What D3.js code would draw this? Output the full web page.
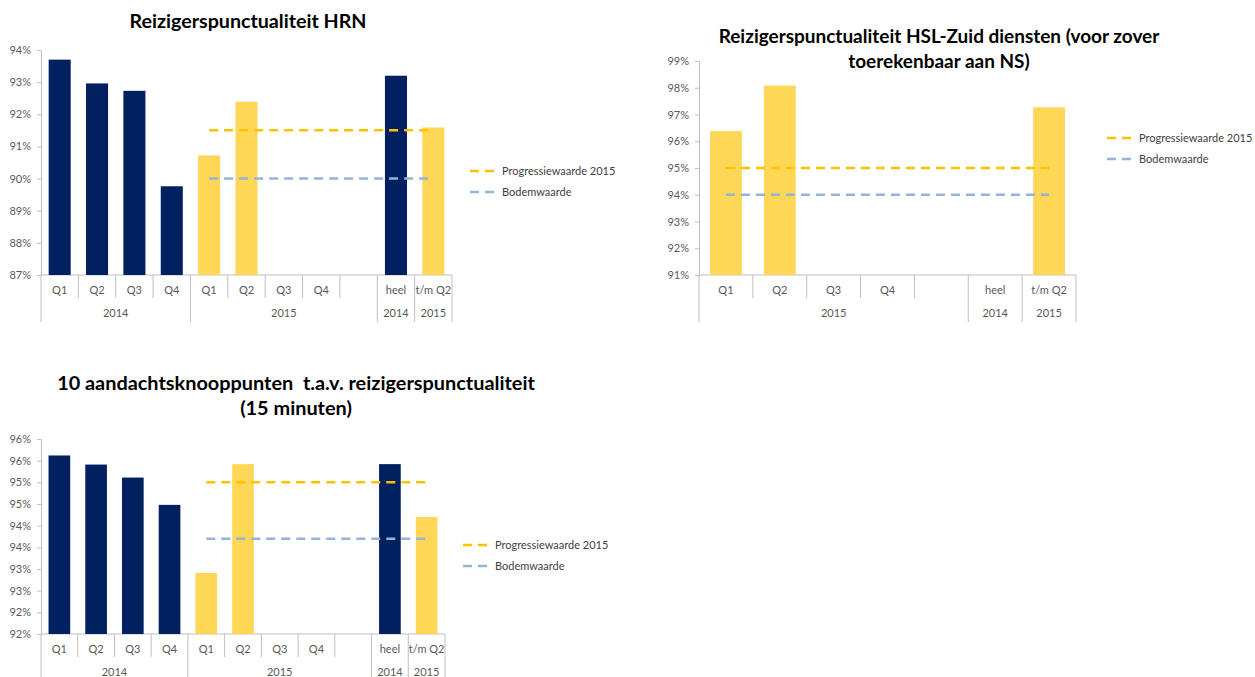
<!DOCTYPE html>
<html>
<head>
<meta charset="utf-8">
<script src="https://cdn.jsdelivr.net/npm/d3@7"></script>
<style>
  body { margin: 0; background: #fff; }
  svg { font-family: Lato, "Open Sans", sans-serif; }
</style>
</head>
<body>
<svg id="charts" width="1255" height="677"></svg>
<script>
// ---- Data ----
// Charts 1 and 3 share the same category axis
const quarterCategories = ["Q1", "Q2", "Q3", "Q4", "Q1", "Q2", "Q3", "Q4", "", "heel", "t/m Q2"];
const quarterBarYears = ["2014", "2014", "2014", "2014", "2015", "2015", "2015", "2015", "", "2014", "2015"];
const quarterGroups = ["2014", "2015", "2014", "2015"];
const quarterGroupSpans = [4, 5, 1, 1];

// Reizigerspunctualiteit HRN (%)
const hrnValues = [93.7, 92.96, 92.73, 89.76, 90.72, 92.39, null, null, null, 93.2, 91.59];
const hrnTicks = [87, 88, 89, 90, 91, 92, 93, 94];
const hrnProgressie = 91.5;
const hrnBodem = 90;

// Reizigerspunctualiteit HSL-Zuid (%)
const hslCategories = ["Q1", "Q2", "Q3", "Q4", "", "heel", "t/m Q2"];
const hslBarYears = ["2015", "2015", "2015", "2015", "", "2014", "2015"];
const hslGroups = ["2015", "2014", "2015"];
const hslGroupSpans = [5, 1, 1];
const hslValues = [96.38, 98.08, null, null, null, null, 97.27];
const hslTicks = [91, 92, 93, 94, 95, 96, 97, 98, 99];
const hslProgressie = 95;
const hslBodem = 94;

// 10 aandachtsknooppunten (%)
const knoopValues = [95.62, 95.41, 95.11, 94.48, 92.91, 95.42, null, null, null, 95.42, 94.2];
const knoopTicks = [91.5, 92, 92.5, 93, 93.5, 94, 94.5, 95, 95.5, 96];
const knoopProgressie = 95;
const knoopBodem = 93.7;

const legendLabels = ["Progressiewaarde 2015", "Bodemwaarde"];

// ---- Styles ----
const yearColor = d3.scaleOrdinal().domain(["2014", "2015"]).range(["#002060", "#FDD755"]);
const lineColors = ["#FFC000", "#95B3D7"];
const axisColor = "#BFBFBF";
const labelColor = "#595959";

const svg = d3.select("#charts");

// shrink/grow a title so its longest line matches the width in the picture
function fitTitle(sel, targetWidth, baseSize) {
    const texts = sel.selectAll("text");
    texts.style("font-size", baseSize + "px");
    const widest = d3.max(texts.nodes(), n => n.getComputedTextLength());
    texts.style("font-size", (baseSize * targetWidth / widest) + "px");
}

function drawChart(cfg) {
    const g = svg.append("g");
    const { left, right, top, bottom } = cfg.plot;
    const n = cfg.categories.length;

    const x = d3.scaleBand()
        .domain(d3.range(n))
        .range([left, right])
        .padding(0);
    const bw = x.bandwidth();
    const barW = bw * 0.59;

    const y = d3.scaleLinear()
        .domain([cfg.ticks[0], cfg.ticks[cfg.ticks.length - 1]])
        .range([bottom, top]);

    // Y axis
    const yAxis = g.append("g")
        .attr("transform", `translate(${left},0)`)
        .call(d3.axisLeft(y)
            .tickValues(cfg.ticks)
            .tickSize(4)
            .tickSizeOuter(0)
            .tickPadding(6)
            .tickFormat(d => Math.round(d) + "%"));
    yAxis.select(".domain").attr("stroke", axisColor);
    yAxis.selectAll(".tick line").attr("stroke", axisColor);
    yAxis.selectAll(".tick text")
        .attr("fill", labelColor)
        .style("font-size", "11px")
        .style("font-family", "Lato, sans-serif");

    // Category axis baseline
    g.append("line")
        .attr("x1", left).attr("x2", right)
        .attr("y1", bottom).attr("y2", bottom)
        .attr("stroke", axisColor);

    // Separators: short between categories, long between groups
    const groupEdges = new Set([0]);
    let acc = 0;
    cfg.groupSpans.forEach(s => { acc += s; groupEdges.add(acc); });
    d3.range(n + 1).forEach(i => {
        const xx = i === n ? right : x(i);
        g.append("line")
            .attr("x1", xx).attr("x2", xx)
            .attr("y1", bottom)
            .attr("y2", bottom + (groupEdges.has(i) ? 47 : 23))
            .attr("stroke", axisColor);
    });

    // Category labels
    g.selectAll(".cat")
        .data(cfg.categories)
        .enter()
        .append("text")
        .attr("x", (d, i) => x(i) + bw / 2)
        .attr("y", bottom + 15)
        .attr("dy", "0.35em")
        .attr("text-anchor", "middle")
        .attr("fill", labelColor)
        .style("font-size", "11px")
        .text(d => d);

    // Group labels
    let start = 0;
    cfg.groups.forEach((label, gi) => {
        const span = cfg.groupSpans[gi];
        const x0 = x(start);
        const x1 = start + span === n ? right : x(start + span);
        g.append("text")
            .attr("x", (x0 + x1) / 2)
            .attr("y", bottom + 38)
            .attr("dy", "0.35em")
            .attr("text-anchor", "middle")
            .attr("fill", labelColor)
            .style("font-size", "11px")
            .text(label);
        start += span;
    });

    // Bars
    const bars = cfg.values
        .map((v, i) => ({ v, i, year: cfg.barYears[i] }))
        .filter(d => d.v !== null);
    g.selectAll(".bar")
        .data(bars)
        .enter()
        .append("rect")
        .attr("x", d => x(d.i) + (bw - barW) / 2)
        .attr("y", d => y(d.v))
        .attr("width", barW)
        .attr("height", d => bottom - y(d.v))
        .attr("fill", d => yearColor(d.year));

    // Target lines (drawn over the bars)
    const line = d3.line().x(d => x(d[0]) + bw / 2).y(d => y(d[1]));
    [cfg.progressie, cfg.bodem].forEach((val, li) => {
        g.append("path")
            .attr("d", line([[cfg.lineFrom, val], [n - 1, val]]))
            .attr("fill", "none")
            .attr("stroke", lineColors[li])
            .attr("stroke-width", 2.5)
            .attr("stroke-dasharray", "9,6");
    });

    // Legend
    legendLabels.forEach((label, li) => {
        const ly = cfg.legend.y + li * 21;
        g.append("line")
            .attr("x1", cfg.legend.x).attr("x2", cfg.legend.x + 24)
            .attr("y1", ly).attr("y2", ly)
            .attr("stroke", lineColors[li])
            .attr("stroke-width", 2.5)
            .attr("stroke-dasharray", "9,6");
        g.append("text")
            .attr("x", cfg.legend.x + 32)
            .attr("y", ly)
            .attr("dy", "0.35em")
            .attr("fill", "#404040")
            .style("font-size", "11px")
            .text(label);
    });

    // Title
    const title = g.append("g");
    cfg.title.forEach((t, ti) => {
        title.append("text")
            .attr("x", cfg.titlePos.x)
            .attr("y", cfg.titlePos.y + ti * 25)
            .attr("text-anchor", "middle")
            .attr("fill", "#000")
            .style("font-weight", "bold")
            .style("white-space", "pre")
            .text(t);
    });
    fitTitle(title, cfg.titlePos.width, 20);
}

drawChart({
    categories: quarterCategories,
    barYears: quarterBarYears,
    groups: quarterGroups,
    groupSpans: quarterGroupSpans,
    values: hrnValues,
    ticks: hrnTicks,
    progressie: hrnProgressie,
    bodem: hrnBodem,
    lineFrom: 4,
    plot: { left: 41, right: 452, top: 50, bottom: 275 },
    title: ["Reizigerspunctualiteit HRN"],
    titlePos: { x: 248, y: 28, width: 237 },
    legend: { x: 470, y: 171 }
});

drawChart({
    categories: hslCategories,
    barYears: hslBarYears,
    groups: hslGroups,
    groupSpans: hslGroupSpans,
    values: hslValues,
    ticks: hslTicks,
    progressie: hslProgressie,
    bodem: hslBodem,
    lineFrom: 0,
    plot: { left: 699, right: 1076, top: 61, bottom: 275 },
    title: ["Reizigerspunctualiteit HSL-Zuid diensten (voor zover", "toerekenbaar aan NS)"],
    titlePos: { x: 939, y: 43, width: 441 },
    legend: { x: 1107, y: 138 }
});

drawChart({
    categories: quarterCategories,
    barYears: quarterBarYears,
    groups: quarterGroups,
    groupSpans: quarterGroupSpans,
    values: knoopValues,
    ticks: knoopTicks,
    progressie: knoopProgressie,
    bodem: knoopBodem,
    lineFrom: 4,
    plot: { left: 41, right: 445, top: 439, bottom: 634 },
    title: ["10 aandachtsknooppunten  t.a.v. reizigerspunctualiteit", "(15 minuten)"],
    titlePos: { x: 296, y: 390, width: 478 },
    legend: { x: 463, y: 545 }
});
</script>
</body>
</html>
